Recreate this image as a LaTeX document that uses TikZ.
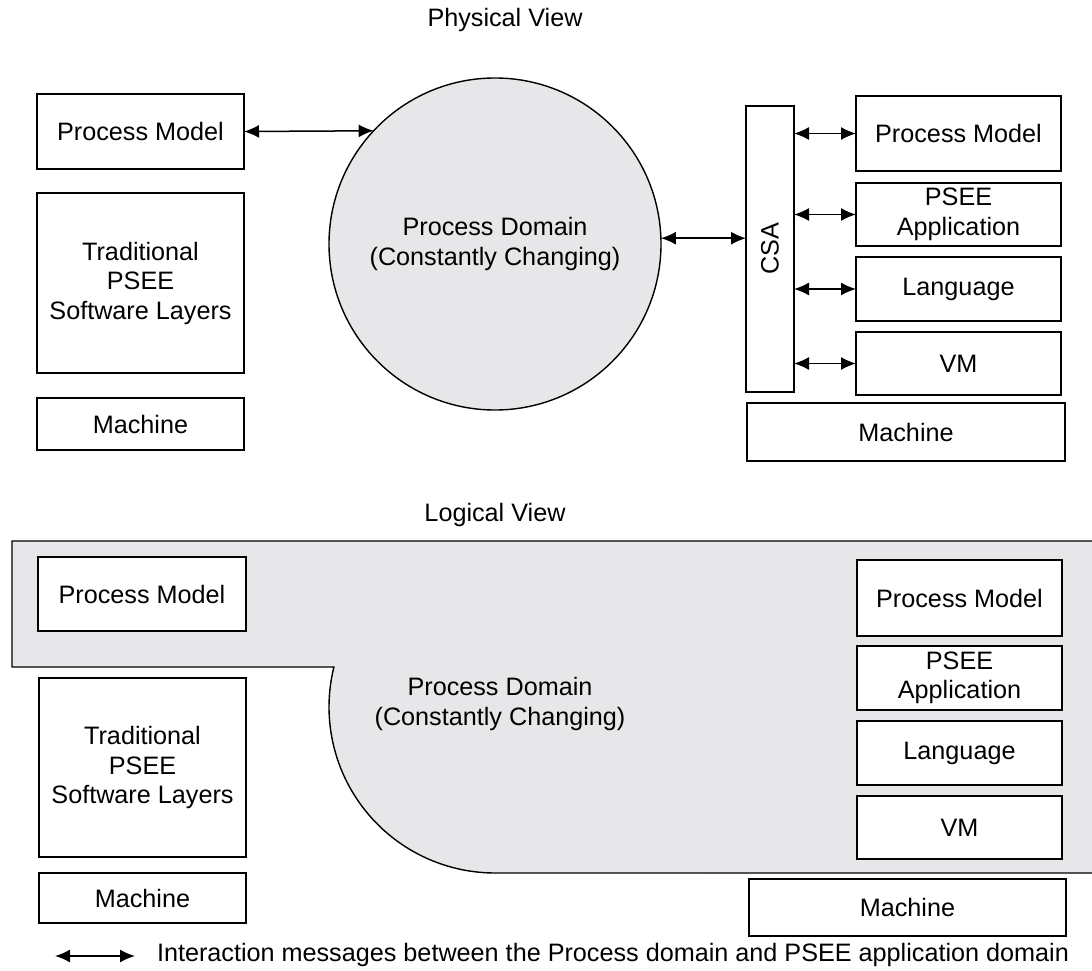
\documentclass[tikz,border=0pt]{standalone}
\usepackage{fontspec}
\setmainfont{Liberation Sans}
\usetikzlibrary{arrows.meta}
\definecolor{domfill}{RGB}{231,231,234}
\begin{document}
\begin{tikzpicture}[x=1pt,y=-1pt,
  every node/.style={font=\fontsize{25.2}{29.5}\selectfont, inner sep=0pt, outer sep=0pt, align=center},
  box/.style={draw, line width=1.6pt, fill=white},
  domarea/.style={draw, line width=1.4pt, fill=domfill},
  link/.style={line width=1.5pt, {Latex[length=15pt,width=13pt]}-{Latex[length=15pt,width=13pt]}},
]
\useasboundingbox (0,0) rectangle (1092,971);

% ---------------- Physical view ----------------
\node (tPhys) at (505,20) {Physical View};

\node[box, minimum width=207pt, minimum height=75pt]  (pPM)   at (140.5,131.5) {Process Model};
\node[box, minimum width=207pt, minimum height=180pt] (pTrad) at (140.5,283) {Traditional\\PSEE\\Software Layers};
\node[box, minimum width=207pt, minimum height=52pt]  (pMach) at (140.5,424) {Machine};

\node[domarea, circle, minimum size=332pt] (pDom) at (495,244) {Process Domain\\(Constantly Changing)};

\node[box, minimum width=48pt, minimum height=286pt] (csa) at (770,249) {\rotatebox{90}{CSA}};

\node[box, minimum width=205pt, minimum height=75pt] (pPM2)  at (958.5,133.5) {Process Model};
\node[box, minimum width=205pt, minimum height=63pt] (pApp)  at (958.5,214.5) {PSEE\\Application};
\node[box, minimum width=205pt, minimum height=64pt] (pLang) at (958.5,289) {Language};
\node[box, minimum width=205pt, minimum height=63pt] (pVM)   at (958.5,363.5) {VM};
\node[box, minimum width=318pt, minimum height=58pt] (pMach2) at (906,432) {Machine};

\draw[link] (pPM.east) -- (pDom.137.3);
\draw[link] (pDom.2.4) -- (pDom.2.4 -| csa.west);
\draw[link] (csa.east |- pPM2.west)  -- (pPM2.west);
\draw[link] (csa.east |- pApp.west)  -- (pApp.west);
\draw[link] (csa.east |- pLang.west) -- (pLang.west);
\draw[link] (csa.east |- pVM.west)   -- (pVM.west);

% ---------------- Logical view ----------------
\node (tLog) at (495,515) {Logical View};

% process domain region spreading over both sides
\fill[domfill] (1092,541) -- (12,541) -- (12,667) -- (333.9,667)
  arc[start angle=193.94, end angle=90, radius=166] -- (1092,873) -- cycle;
\draw[line width=1.4pt] (1092,541) -- (12,541) -- (12,667) -- (333.9,667)
  arc[start angle=193.94, end angle=90, radius=166] -- (1092,873);
\node (lDom) at (500,704) {Process Domain\\(Constantly Changing)};

\node[box, minimum width=208pt, minimum height=74pt]  (lPM)   at (142,594) {Process Model};
\node[box, minimum width=207pt, minimum height=179pt] (lTrad) at (142.5,767.5) {Traditional\\PSEE\\Software Layers};
\node[box, minimum width=207pt, minimum height=50pt]  (lMach) at (142.5,898) {Machine};

\node[box, minimum width=205pt, minimum height=76pt] (lPM2)  at (959.5,598) {Process Model};
\node[box, minimum width=205pt, minimum height=64pt] (lApp)  at (959.5,678) {PSEE\\Application};
\node[box, minimum width=205pt, minimum height=64pt] (lLang) at (959.5,753) {Language};
\node[box, minimum width=205pt, minimum height=63pt] (lVM)   at (959.5,827.5) {VM};
\node[box, minimum width=317pt, minimum height=57pt] (lMach2) at (907.5,907.5) {Machine};

% ---------------- Legend ----------------
\coordinate (lgA) at (55,956);
\coordinate (lgB) at (135,956);
\draw[link] (lgA) -- (lgB);
\node[anchor=west] (lgText) at (157,955) {Interaction messages between the Process domain and PSEE application domain};
\end{tikzpicture}
\end{document}
